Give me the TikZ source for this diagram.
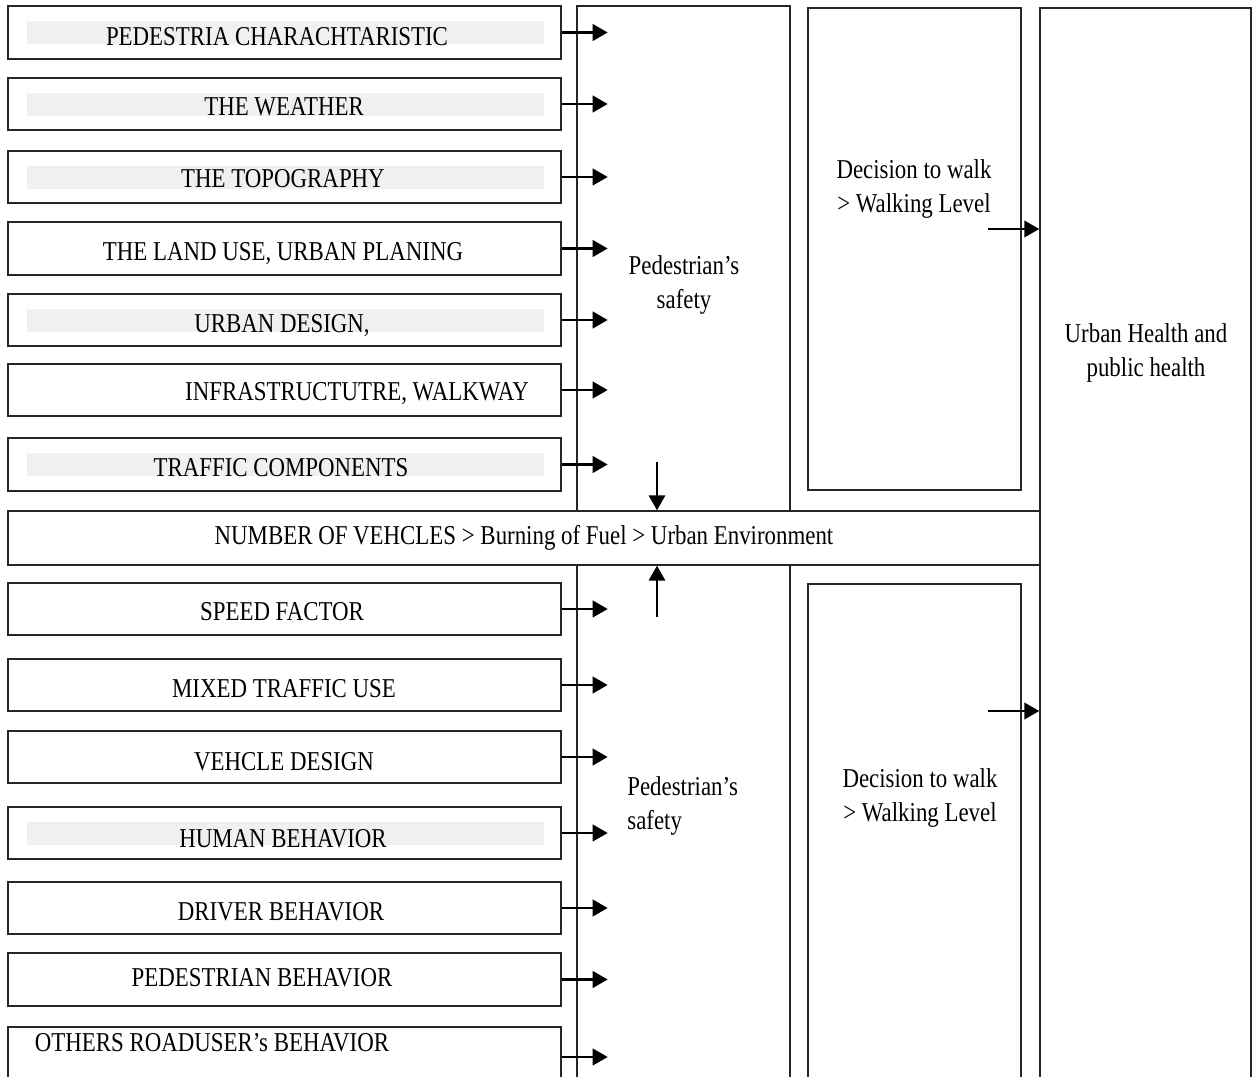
\documentclass[tikz,border=0pt]{standalone}
\usepackage{fontspec}
\setmainfont{Liberation Serif}[FakeStretch=0.84]
\usetikzlibrary{arrows.meta}
\tikzset{
  inbox/.style={draw=black!85, line width=0.85pt, minimum width=11.06cm, inner sep=0pt},
  col/.style={draw=black!85, line width=0.85pt, inner sep=0pt},
  band/.style={fill=black!6},
  lab/.style={font=\fontsize{15.5}{19.8}\selectfont, text=black, inner sep=0pt},
  arr/.style={-{Triangle[length=3mm,width=3.3mm]}, line width=1.4pt, color=black}
}
\begin{document}
\begin{tikzpicture}[x=0.02cm,y=-0.02cm]
\useasboundingbox (0,0) rectangle (1258,1077);

% ---------------- Columns ----------------
\node[col, minimum width=4.26cm, minimum height=10.1cm] (safeup) at (683.5,258.5) {};
\node[col, minimum width=4.26cm, minimum height=10.5cm] (safedn) at (683.5,827.5) {};
\node[col, minimum width=4.26cm, minimum height=9.64cm] (decup) at (914.5,249) {};
\node[col, minimum width=4.26cm, minimum height=10.12cm] (decdn) at (914.5,837) {};
\node[col, minimum width=4.22cm, minimum height=21.64cm] (urban) at (1145.5,549) {};
\node[col, lab, draw=black!85, line width=0.85pt, minimum width=20.64cm, minimum height=1.08cm] (mid) at (524,538)
  {NUMBER OF VEHCLES > Burning of Fuel > Urban Environment};

\node[lab, align=center] (safeuplab) at (684,285) {Pedestrian’s\\safety};
\node[lab, align=left, anchor=west] (safednlab) at (627,806) {Pedestrian’s\\safety};
\node[lab, align=center] (decuplab) at (914,189) {Decision to walk\\> Walking Level};
\node[lab, align=center] (decdnlab) at (920,798) {Decision to walk\\> Walking Level};
\node[lab, align=center] (urbanlab) at (1146,353) {Urban Health and\\public health};

% ---------------- Factor boxes ----------------
\foreach \i/\top/\h/\tx/\ty/\g/\lbl in {
  1/6/53/277/37/1/{PEDESTRIA CHARACHTARISTIC},
  2/78/52/284/107/1/{THE WEATHER},
  3/151/52/283/179/1/{THE TOPOGRAPHY},
  4/222/53/283/254/0/{THE LAND USE, URBAN PLANING},
  5/294/52/282/326/1/{URBAN DESIGN,},
  6/364/52/357/394/0/{INFRASTRUCTUTRE, WALKWAY},
  7/438/53/281/468/1/{TRAFFIC COMPONENTS},
  8/583/52/282/612/0/{SPEED FACTOR},
  9/659/52/284/689/0/{MIXED TRAFFIC USE},
  10/731/52/284/762/0/{VEHCLE DESIGN},
  11/807/52/283/839/1/{HUMAN BEHAVIOR},
  12/882/52/281/912/0/{DRIVER BEHAVIOR},
  13/953/53/262/978/0/{PEDESTRIAN BEHAVIOR},
  14/1027/60/212/1043/0/{OTHERS ROADUSER’s BEHAVIOR}}{
  \node[inbox, minimum height={\h*0.02cm}] (b\i) at (284.5,\top+\h/2) {};
  \ifnum\g=1 \fill[band] (27,\top+15) rectangle (544,\top+38); \fi
  \node[lab] (t\i) at (\tx,\ty) {\lbl};
  \draw[arr] (b\i.east) -- ++(46,0);
}

% ---------------- Arrows ----------------
\coordinate (vup) at (657,462);
\coordinate (vdn) at (657,617);
\draw[arr, line width=1.1pt] (vup) -- (vup |- mid.north);
\draw[arr, line width=1.1pt] (vdn) -- (vdn |- mid.south);

\coordinate (wup) at (988,229);
\coordinate (wdn) at (988,711);
\draw[arr] (wup) -- (wup -| urban.west);
\draw[arr] (wdn) -- (wdn -| urban.west);

\end{tikzpicture}
\end{document}
